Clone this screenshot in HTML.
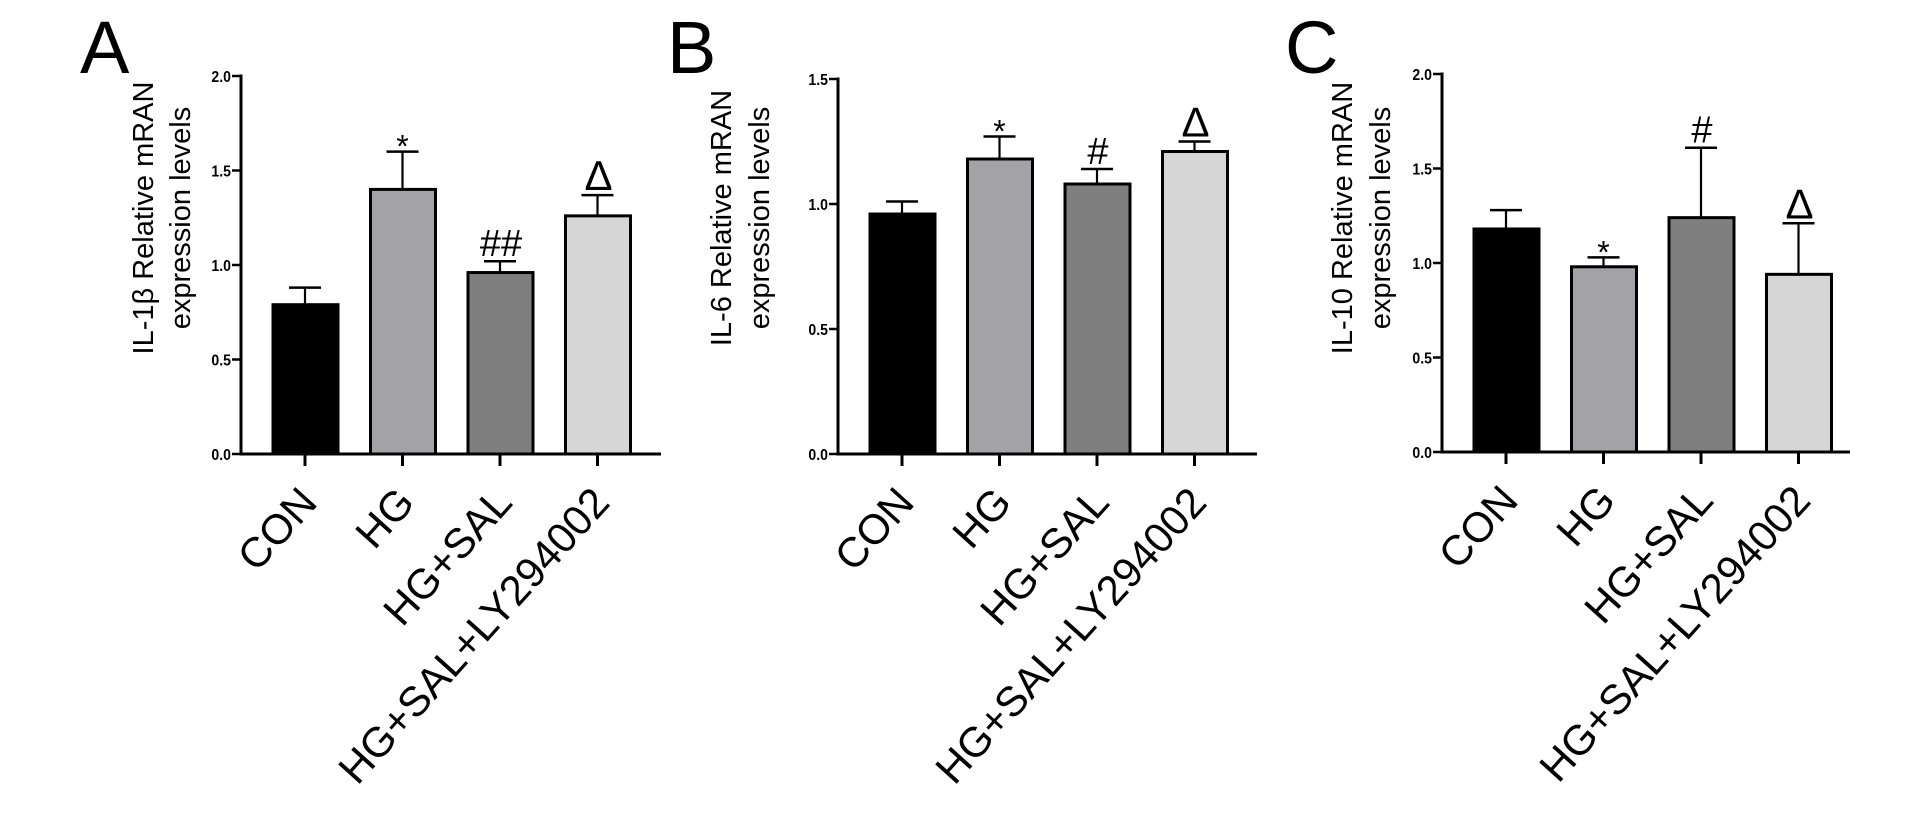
<!DOCTYPE html>
<html><head><meta charset="utf-8"><style>
html,body{margin:0;padding:0;background:#fff;}
svg{display:block;}
</style></head><body>
<svg id="fig" width="1919" height="840" viewBox="0 0 1919 840" xmlns="http://www.w3.org/2000/svg"></svg>
<script>
const categories = ["CON","HG","HG+SAL","HG+SAL+LY294002"];
const panelLetters = ["A","B","C"];
const yTitlesLine1 = ["IL-1\u03b2 Relative mRAN","IL-6 Relative mRAN","IL-10 Relative mRAN"];
const yTitleLine2 = "expression levels";
const valuesA = [0.79, 1.40, 0.96, 1.26];
const errorsA = [0.88, 1.60, 1.02, 1.37];
const valuesB = [0.96, 1.18, 1.08, 1.21];
const errorsB = [1.01, 1.27, 1.14, 1.25];
const valuesC = [1.18, 0.98, 1.24, 0.94];
const errorsC = [1.28, 1.03, 1.61, 1.21];
const marksA = ["", "*", "##", "\u0394"];
const marksB = ["", "*", "#", "\u0394"];
const marksC = ["", "*", "#", "\u0394"];
const ticksA = [0.0, 0.5, 1.0, 1.5, 2.0];
const ticksB = [0.0, 0.5, 1.0, 1.5];
const ticksC = [0.0, 0.5, 1.0, 1.5, 2.0];

const NS = "http://www.w3.org/2000/svg";
const svg = document.getElementById('fig');
const fills = ["#000000","#a3a2a7","#7f7f7f","#d6d6d6"];
const panels = [
  {ax:241, top:76, bot:454, right:661, step:97.5, ymax:2.0, vals:valuesA, errs:errorsA, marks:marksA, ticks:ticksA, letterX:80, t1:144, t2:181},
  {ax:838, top:79, bot:454, right:1257, step:97.5, ymax:1.5, vals:valuesB, errs:errorsB, marks:marksB, ticks:ticksB, letterX:667, t1:722, t2:760},
  {ax:1442, top:74, bot:452, right:1850, step:97.5, ymax:2.0, vals:valuesC, errs:errorsC, marks:marksC, ticks:ticksC, letterX:1285, t1:1343, t2:1381}
];
function mk(tag, attrs, parent){
  const e = document.createElementNS(NS, tag);
  for (const k in attrs) e.setAttribute(k, attrs[k]);
  (parent||svg).appendChild(e);
  return e;
}
panels.forEach((p, pi) => {
  const g = mk('g', {});
  
  
  const yS = v => p.bot - v / p.ymax * (p.bot - p.top);
  const xS = i => p.ax + 64 + i * p.step;
  const L = mk('text', {x:p.letterX, y:73, 'font-family':'Liberation Sans, sans-serif', 'font-size':74}, g);
  L.textContent = panelLetters[pi];
  
  
  const cy = 218;
  [[p.t1, yTitlesLine1[pi]], [p.t2, yTitleLine2]].forEach(([tx, s], li) => {
    const t = mk('text', {x:tx, y:cy, 'font-family':'Liberation Sans, sans-serif', 'font-size':29, 'text-anchor':'middle', 'dominant-baseline':'central', transform:`rotate(-90 ${tx} ${cy})`}, g);
    t.textContent = s;
    
    
  });
  p.vals.forEach((v, i) => {
    const cx = xS(i);
    const yt = yS(v), ye = yS(p.errs[i]);
    const eb = mk('line', {x1:cx, x2:cx, y1:yt, y2:ye, stroke:'#000', 'stroke-width':2.2}, g);
    
    
    const cap = mk('line', {x1:cx-16, x2:cx+16, y1:ye, y2:ye, stroke:'#000', 'stroke-width':2.5}, g);
    
    
    const r = mk('rect', {x:cx-32, y:yt, width:65, height:p.bot - yt, fill:fills[i], stroke:'#000', 'stroke-width':3}, g);
    
    
    if (p.marks[i]) {
      const m = p.marks[i];
      const isStar = m === '*';
      const fs = isStar ? 32 : (m === '\u0394' ? 42 : 38);
      const yy = isStar ? ye + 6 : ye - 5;
      const mt = mk('text', {x:cx + (isStar?0:1), y:yy, 'font-family':'Liberation Sans, sans-serif', 'font-size':fs, 'text-anchor':'middle'}, g);
      mt.textContent = m;
      
      
    }
    const tk = mk('line', {x1:cx, x2:cx, y1:p.bot, y2:p.bot+12, stroke:'#000', 'stroke-width':3}, g);
    
    
    const lx = cx + 14, ly = p.bot + 50;
    const xl = mk('text', {x:lx, y:ly, 'font-family':'Liberation Sans, sans-serif', 'font-size':42, 'text-anchor':'end', transform:`rotate(-48 ${lx} ${ly})`}, g);
    xl.textContent = categories[i];
    
    
  });
  const ya = mk('line', {x1:p.ax, x2:p.ax, y1:p.top-1.5, y2:p.bot+1.5, stroke:'#000', 'stroke-width':3}, g);
  
  
  const xa = mk('line', {x1:p.ax-1.5, x2:p.right, y1:p.bot, y2:p.bot, stroke:'#000', 'stroke-width':3}, g);
  
  
  p.ticks.forEach(t => {
    const y = yS(t);
    const tl = mk('line', {x1:p.ax-9, x2:p.ax, y1:y, y2:y, stroke:'#000', 'stroke-width':2.5}, g);
    
    
    const tt = mk('text', {x:p.ax-10, y:y+6, 'font-family':'Liberation Sans, sans-serif', 'font-size':16, 'font-weight':'bold', 'text-anchor':'end', transform:`translate(${(p.ax-10)*0.12} 0) scale(0.88 1)`}, g);
    tt.textContent = t.toFixed(1);
    
    
  });
});
</script>
</body></html>
